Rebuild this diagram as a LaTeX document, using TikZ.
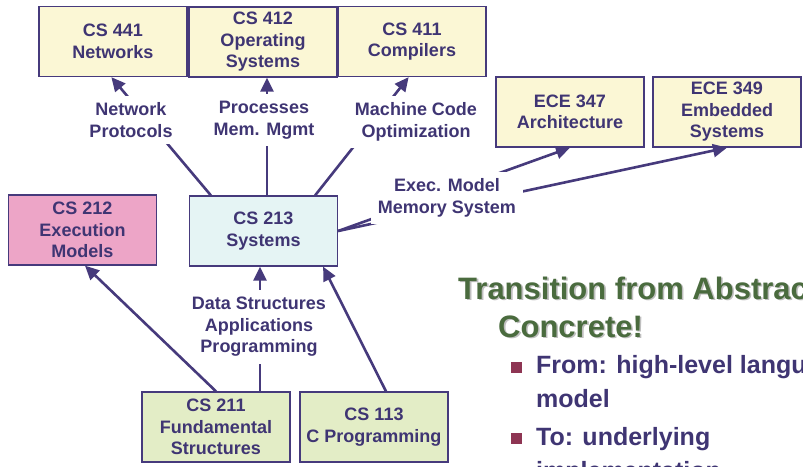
\documentclass[tikz,border=0pt]{standalone}
\usepackage{fontspec}
\setmainfont{Liberation Sans}
\usepackage{tikz}
\usetikzlibrary{arrows.meta}
\definecolor{ink}{HTML}{3F3573}
\definecolor{edgeink}{HTML}{463A7C}
\definecolor{boxyellow}{HTML}{FBF7D5}
\definecolor{boxpink}{HTML}{EDA5C7}
\definecolor{boxblue}{HTML}{E5F4F4}
\definecolor{boxgreen}{HTML}{E3EDC6}
\definecolor{titlegreen}{HTML}{4A6B3E}
\definecolor{bulletred}{HTML}{8E3553}

\begin{document}
\begin{tikzpicture}
	[x=1pt,y=-1pt,
	 course/.style={draw=edgeink,line width=1.3pt,minimum width=148pt,minimum height=70pt,
	   inner sep=0pt,align=center,text=ink,font=\bfseries\fontsize{18}{21.5}\selectfont},
	 topic/.style={fill=white,inner sep=7pt,align=center,text=ink,
	   font=\bfseries\fontsize{18}{21.5}\selectfont},
	 link/.style={-{Triangle[length=14pt,width=13pt]},line width=2.6pt,draw=edgeink},
	 bullet/.style={fill=bulletred,minimum size=11pt,inner sep=0pt},
	 slidetext/.style={anchor=base west,inner sep=0pt,text=ink,font=\bfseries\fontsize{25}{30}\selectfont}];
\useasboundingbox (0,0) rectangle (803,466);
\clip (0,0) rectangle (803,466);
\fill[white] (0,0) rectangle (803,466);

% courses
\node[course,fill=boxyellow] (cs441) at (113,41.5) {CS 441\\Networks};
\node[course,fill=boxyellow] (cs412) at (263,42) {CS 412\\Operating\\Systems};
\node[course,fill=boxyellow] (cs411) at (412,41.5) {CS 411\\Compilers};
\node[course,fill=boxyellow] (ece347) at (570,112) {ECE 347\\Architecture};
\node[course,fill=boxyellow] (ece349) at (727,112) {ECE 349\\Embedded\\Systems};
\node[course,fill=boxpink] (cs212) at (82.5,230) {CS 212\\Execution\\Models};
\node[course,fill=boxblue] (cs213) at (263.5,231) {CS 213\\Systems};
\node[course,fill=boxgreen] (cs211) at (216,427) {CS 211\\Fundamental\\Structures};
\node[course,fill=boxgreen] (cs113) at (374,427) {CS 113\\C Programming};

% prerequisites
\draw[link] ([xshift=22pt]cs213.north west) -- ([xshift=73pt]cs441.south west);
\draw[link] ([xshift=3.5pt]cs213.north) -- ([xshift=4pt]cs412.south);
\draw[link] ([xshift=-23pt]cs213.north east) -- ([xshift=-78pt]cs411.south east);
\draw[link] (cs213.east) -- (ece347.south);
\draw[link] (cs213.east) -- (ece349.south);
\draw[link] ([xshift=44pt]cs211.north) -- ([xshift=-3.5pt]cs213.south);
\draw[link] ([xshift=12pt]cs113.north) -- ([xshift=-15pt]cs213.south east);

% topics
\node[topic] (netproto) at (131,120) {Network\\Protocols};
\node[topic] (procmem) at (264,120) {Processes\\Mem. Mgmt};
\node[topic] (machcode) at (416,122) {Machine Code\\Optimization};
\node[topic] (execmem) at (447,198) {Exec. Model\\Memory System};
\node[topic] (datastruct) at (259,327) {Data Structures\\Applications\\Programming};

\draw[link] (cs211.north) -- ([xshift=2.5pt]cs212.south);

% slide text
\foreach \dx/\col in {1.6/black!25,0/titlegreen}
{
  \node[anchor=base west,inner sep=0pt,text=\col,font=\bfseries\fontsize{31}{36}\selectfont]
    at (458+\dx,299+\dx) {Transition from Abstract to};
  \node[anchor=base west,inner sep=0pt,text=\col,font=\bfseries\fontsize{31}{36}\selectfont]
    at (498+\dx,337+\dx) {Concrete!};
}
\node[bullet] (bulletfrom) at (516.5,367.5) {};
\node[slidetext] (fromtext) at (536,373) {From: high-level language};
\node[slidetext] (fromtextb) at (536,407) {model};
\node[bullet] (bulletto) at (516.5,438.5) {};
\node[slidetext] (totext) at (536,445) {To: underlying};
\node[slidetext] (totextb) at (536,479) {implementation};
\end{tikzpicture}
\end{document}
